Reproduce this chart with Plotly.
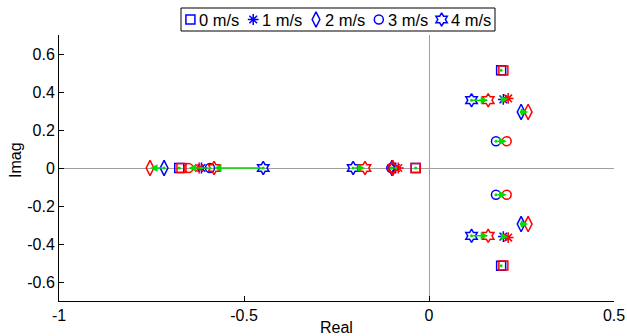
import plotly.graph_objects as go

# ---------------- data ----------------
velocities = ["0 m/s", "1 m/s", "2 m/s", "3 m/s", "4 m/s"]

# blue set of poles (arrow tails)
blue_left = [-0.675, -0.615, -0.716, -0.592, -0.448]
blue_mid = [-0.036, -0.090, -0.100, -0.102, -0.205]
blue_cre = [0.195, 0.201, 0.249, 0.181, 0.115]
blue_cim = [0.515, 0.361, 0.295, 0.141, 0.357]

# red set of poles (arrow heads)
red_left = [-0.669, -0.621, -0.754, -0.650, -0.581]
red_mid = [-0.036, -0.083, -0.098, -0.100, -0.173]
red_cre = [0.201, 0.214, 0.268, 0.210, 0.160]
red_cim = [0.513, 0.366, 0.295, 0.141, 0.357]

x_ticks = [-1, -0.5, 0, 0.5]
x_ticktext = ["-1", "-0.5", "0", "0.5"]
y_ticks = [-0.6, -0.4, -0.2, 0, 0.2, 0.4, 0.6]
y_ticktext = ["-0.6", "-0.4", "-0.2", "0", "0.2", "0.4", "0.6"]

# ---------------- style ----------------
symbols = ["square-open", "asterisk-open", "diamond-tall-open", "circle-open", "hexagram-open"]
sizes = [9, 9, 11, 9, 10]
BLUE = "#0000ff"
RED = "#ff0000"
GREEN = "#00dd00"
FONT = "Liberation Sans, Arial, sans-serif"
W, H = 627, 336
L, R, T, B = 59, 614, 35, 301


def poles(left, mid, cre, cim, i):
    return [left[i], mid[i], cre[i], cre[i]], [0, 0, cim[i], -cim[i]]


fig = go.Figure()

for i, v in enumerate(velocities):
    xs, ys = poles(blue_left, blue_mid, blue_cre, blue_cim, i)
    fig.add_trace(go.Scatter(
        x=xs, y=ys, mode="markers", name=v, showlegend=False,
        marker=dict(symbol=symbols[i], size=sizes[i], color=BLUE,
                    line=dict(color=BLUE, width=1.5))))

for i, v in enumerate(velocities):
    xs, ys = poles(red_left, red_mid, red_cre, red_cim, i)
    fig.add_trace(go.Scatter(
        x=xs, y=ys, mode="markers", name=v + " (red)", showlegend=False,
        marker=dict(symbol=symbols[i], size=sizes[i], color=RED,
                    line=dict(color=RED, width=1.5))))

# arrow tails (green dots)
tx, ty = [], []
for i in range(len(velocities)):
    xs, ys = poles(blue_left, blue_mid, blue_cre, blue_cim, i)
    tx += xs
    ty += ys
fig.add_trace(go.Scatter(x=tx, y=ty, mode="markers", showlegend=False,
                         marker=dict(symbol="circle", size=3, color=GREEN)))

annotations = []
for i in range(len(velocities)):
    bx, by = poles(blue_left, blue_mid, blue_cre, blue_cim, i)
    rx, ry = poles(red_left, red_mid, red_cre, red_cim, i)
    for x0, y0, x1, y1 in zip(bx, by, rx, ry):
        if abs(x1 - x0) < 1e-9 and abs(y1 - y0) < 1e-9:
            continue
        annotations.append(dict(
            x=x1, y=y1, ax=x0, ay=y0, xref="x", yref="y", axref="x", ayref="y",
            showarrow=True, arrowhead=2, arrowsize=1, arrowwidth=1.5,
            arrowcolor=GREEN, standoff=0, startstandoff=0, text=""))

# ---------- custom compact legend (axis pair x2/y2) ----------
leg_x0, leg_x1, leg_y0, leg_y1 = 181, 495, 8, 31
lx = [i + 0.15 for i in range(len(velocities))]
for i, v in enumerate(velocities):
    fig.add_trace(go.Scatter(
        x=[lx[i]], y=[0.5], xaxis="x2", yaxis="y2", mode="markers", showlegend=False,
        cliponaxis=False,
        marker=dict(symbol=symbols[i], size=sizes[i], color=BLUE,
                    line=dict(color=BLUE, width=1.5))))
    annotations.append(dict(x=lx[i] + 0.11, y=0.5, xref="x2", yref="y2", text=v,
                            showarrow=False, xanchor="left", yanchor="middle",
                            font=dict(family=FONT, size=16.5, color="black")))

annotations.append(dict(x=(L + R) / 2 / W, y=1 - 327 / H, xref="paper", yref="paper",
                        text="Real", showarrow=False, xanchor="center", yanchor="middle",
                        font=dict(family=FONT, size=16, color="black")))
annotations.append(dict(x=15 / W, y=1 - 160 / H, xref="paper", yref="paper",
                        text="Imag", showarrow=False, textangle=-90,
                        xanchor="center", yanchor="middle",
                        font=dict(family=FONT, size=16, color="black")))

fig.update_layout(
    width=W, height=H,
    margin=dict(l=0, r=0, t=0, b=0, pad=0),
    paper_bgcolor="white", plot_bgcolor="white",
    font=dict(family=FONT, size=16, color="black"),
    showlegend=False,
    xaxis=dict(domain=[L / W, R / W], range=[-1, 0.5], tickvals=x_ticks, ticktext=x_ticktext,
               ticks="inside", ticklen=5, tickcolor="black", showline=True, linecolor="black",
               linewidth=1, mirror=False, showgrid=False, zeroline=True,
               zerolinecolor="#a0a0a0", zerolinewidth=1, automargin=False,
               tickfont=dict(family=FONT, size=16)),
    yaxis=dict(domain=[1 - B / H, 1 - T / H], range=[-0.7, 0.7], tickvals=y_ticks,
               ticktext=y_ticktext, ticks="inside", ticklen=5, tickcolor="black",
               showline=True, linecolor="black", linewidth=1, mirror=False, showgrid=False,
               zeroline=True, zerolinecolor="#a0a0a0", zerolinewidth=1, automargin=False,
               tickfont=dict(family=FONT, size=16)),
    xaxis2=dict(domain=[leg_x0 / W, leg_x1 / W], range=[0, 5], visible=False, fixedrange=True),
    yaxis2=dict(domain=[1 - leg_y1 / H, 1 - leg_y0 / H], range=[0, 1], visible=False,
                fixedrange=True),
    shapes=[dict(type="rect", xref="paper", yref="paper",
                 x0=leg_x0 / W, x1=leg_x1 / W, y0=1 - leg_y1 / H, y1=1 - leg_y0 / H,
                 line=dict(color="black", width=1), fillcolor="rgba(0,0,0,0)",
                 layer="above")],
    annotations=annotations,
)

fig.write_html("out.html", config={"displayModeBar": False},
               post_script="document.body.style.margin='0';")
